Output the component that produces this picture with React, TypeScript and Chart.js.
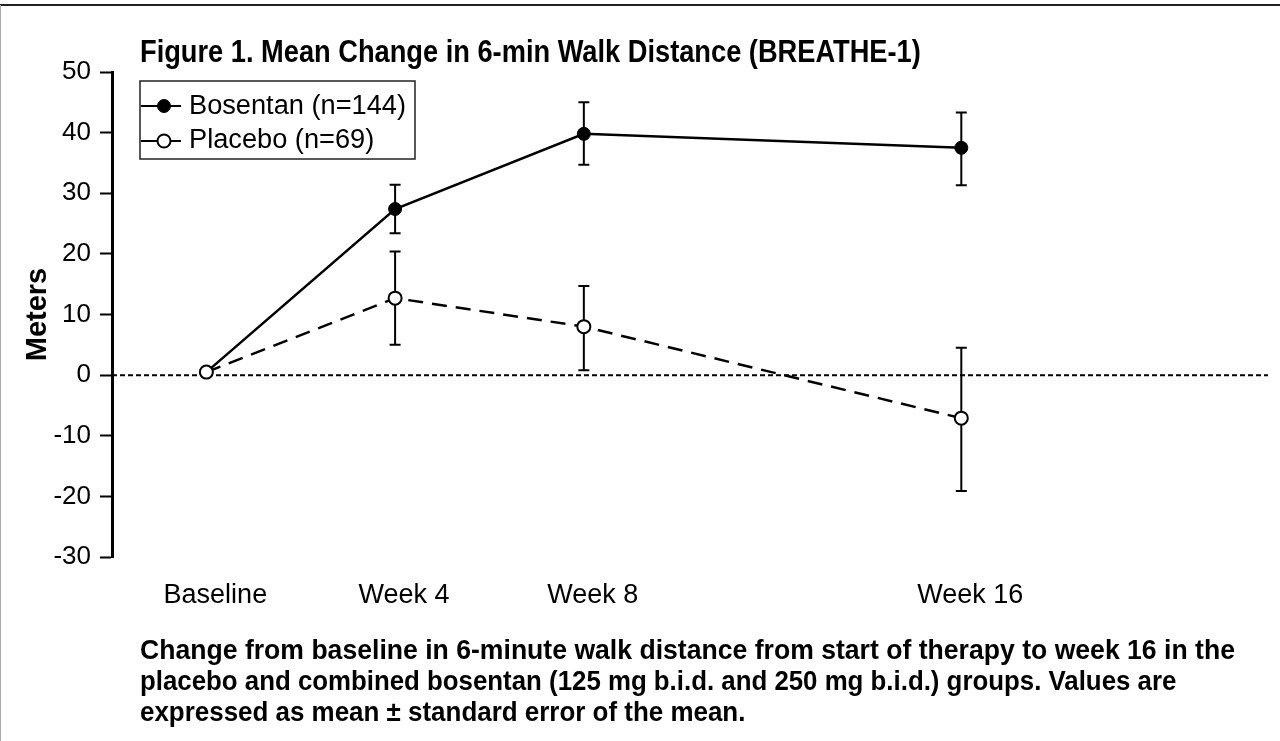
import React, { useEffect, useLayoutEffect, useRef, useState } from "react";
import { Chart, registerables } from "chart.js";

Chart.register(...registerables);

// ---------- data ----------
const weeks = [0, 4, 8, 16];
const weekLabels = ["Baseline", "Week 4", "Week 8", "Week 16"];
const yTicks = [50, 40, 30, 20, 10, 0, -10, -20, -30];

const seriesLabels = ["Bosentan (n=144)", "Placebo (n=69)"];

const bosentanMean = [0.5, 27.4, 39.8, 37.5];
const bosentanLow = [null, 23.4, 34.7, 31.3];
const bosentanHigh = [null, 31.4, 45.0, 43.3];

const placeboMean = [0.5, 12.7, 8.0, -7.1];
const placeboLow = [null, 5.0, 0.8, -19.1];
const placeboHigh = [null, 20.4, 14.7, 4.5];

const titleText = "Figure 1. Mean Change in 6-min Walk Distance (BREATHE-1)";
const yAxisTitle = "Meters";
const captionLines = [
  "Change from baseline in 6-minute walk distance from start of therapy to week 16 in the",
  "placebo and combined bosentan (125 mg b.i.d. and 250 mg b.i.d.) groups. Values are",
  "expressed as mean \u00b1 standard error of the mean.",
];

const SANS = '"Liberation Sans", Arial, sans-serif';
const NARROW = '"Liberation Sans Narrow", "Arial Narrow", "Liberation Sans", sans-serif';

// ---------- plugins ----------
const zeroLinePlugin = {
  id: "zeroLine",
  beforeDatasetsDraw(chart: any) {
    const { ctx, chartArea, scales } = chart;
    const y0 = scales.y.getPixelForValue(0);
    ctx.save();
    ctx.strokeStyle = "#000";
    ctx.lineWidth = 2;
    ctx.setLineDash([5, 3]);
    ctx.beginPath();
    ctx.moveTo(chartArea.left, y0);
    ctx.lineTo(chartArea.right, y0);
    ctx.stroke();
    ctx.restore();
  },
};

const errorBarPlugin = {
  id: "errorBars",
  beforeDatasetsDraw(chart: any) {
    const { ctx, scales } = chart;
    ctx.save();
    ctx.strokeStyle = "#000";
    ctx.lineWidth = 2;
    ctx.setLineDash([]);
    chart.data.datasets.forEach((ds: any) => {
      ds.data.forEach((p: any, i: number) => {
        const lo = ds.errLow[i];
        const hi = ds.errHigh[i];
        if (lo == null || hi == null) return;
        const px = scales.x.getPixelForValue(p.x);
        const yl = scales.y.getPixelForValue(lo);
        const yh = scales.y.getPixelForValue(hi);
        const cap = 5.5;
        ctx.beginPath();
        ctx.moveTo(px, yh);
        ctx.lineTo(px, yl);
        ctx.moveTo(px - cap, yh);
        ctx.lineTo(px + cap, yh);
        ctx.moveTo(px - cap, yl);
        ctx.lineTo(px + cap, yl);
        ctx.stroke();
      });
    });
    ctx.restore();
  },
};

const boxLegendPlugin = {
  id: "boxLegend",
  afterDraw(chart: any) {
    const { ctx } = chart;
    const box = { x: 140, y: 81, w: 275, h: 78 };
    ctx.save();
    ctx.strokeStyle = "#222";
    ctx.lineWidth = 1.5;
    ctx.setLineDash([]);
    ctx.strokeRect(box.x, box.y, box.w, box.h);

    ctx.font = `27px ${SANS}`;
    ctx.textBaseline = "alphabetic";
    ctx.textAlign = "left";
    const natural = ctx.measureText(chart.data.datasets[0].label).width;
    const sx = 217 / natural;

    chart.data.datasets.forEach((ds: any, i: number) => {
      const cy = 106 + 35 * i;
      ctx.strokeStyle = "#000";
      ctx.lineWidth = 2;
      ctx.beginPath();
      ctx.moveTo(box.x + 1, cy);
      ctx.lineTo(box.x + 41, cy);
      ctx.stroke();
      ctx.beginPath();
      ctx.arc(box.x + 24, cy, ds.pointRadius, 0, Math.PI * 2);
      ctx.fillStyle = ds.pointBackgroundColor;
      ctx.fill();
      ctx.lineWidth = ds.pointBorderWidth;
      ctx.strokeStyle = ds.pointBorderColor;
      ctx.stroke();

      ctx.fillStyle = "#000";
      ctx.save();
      ctx.translate(box.x + 49, 114 + 34 * i);
      ctx.scale(sx, 1);
      ctx.fillText(ds.label, 0, 0);
      ctx.restore();
    });
    ctx.restore();
  },
};

// ---------- fitted HTML text ----------
function FitText(props: {
  text: string;
  left: number;
  baseline: number;
  size: number;
  width: number;
  bold?: boolean;
  family?: string;
}) {
  const { text, left, baseline, size, width, bold, family } = props;
  const ref = useRef<HTMLSpanElement>(null);
  const [sx, setSx] = useState(1);
  useLayoutEffect(() => {
    const measure = () => {
      if (ref.current) {
        const w = ref.current.offsetWidth;
        if (w > 0) setSx(width / w);
      }
    };
    measure();
    if ((document as any).fonts && (document as any).fonts.ready) {
      (document as any).fonts.ready.then(measure);
    }
  }, [text, width, size]);
  const top = baseline - size * 0.8465;
  return (
    <span
      ref={ref}
      style={{
        position: "absolute",
        left,
        top,
        fontFamily: family || SANS,
        fontSize: size,
        lineHeight: `${size}px`,
        fontWeight: bold ? 700 : 400,
        whiteSpace: "nowrap",
        color: "#000",
        transform: `scaleX(${sx})`,
        transformOrigin: "0 0",
        display: "inline-block",
      }}
    >
      {text}
    </span>
  );
}

// ---------- chart ----------
function WalkChart() {
  const canvasRef = useRef<HTMLCanvasElement>(null);
  useEffect(() => {
    if (!canvasRef.current) return;
    const chart = new Chart(canvasRef.current, {
      type: "line",
      data: {
        datasets: [
          {
            label: seriesLabels[0],
            data: weeks.map((w, i) => ({ x: w, y: bosentanMean[i] })),
            errLow: bosentanLow,
            errHigh: bosentanHigh,
            borderColor: "#000",
            borderWidth: 2.5,
            pointRadius: 6.5,
            pointBackgroundColor: "#000",
            pointBorderColor: "#000",
            pointBorderWidth: 1,
            tension: 0,
            order: 1,
          } as any,
          {
            label: seriesLabels[1],
            data: weeks.map((w, i) => ({ x: w, y: placeboMean[i] })),
            errLow: placeboLow,
            errHigh: placeboHigh,
            borderColor: "#000",
            borderWidth: 2.5,
            borderDash: [15, 9],
            pointRadius: 6.5,
            pointBackgroundColor: "#fff",
            pointBorderColor: "#000",
            pointBorderWidth: 2,
            tension: 0,
            order: 0,
          } as any,
        ],
      },
      options: {
        responsive: false,
        animation: false,
        devicePixelRatio: 1,
        layout: { padding: { left: 0, top: 72, right: 12, bottom: 0 } },
        plugins: {
          legend: { display: false },
          tooltip: { enabled: false },
          title: { display: false },
        },
        scales: {
          x: {
            type: "linear",
            min: -2,
            max: 22.5,
            afterBuildTicks: (scale: any) => {
              scale.ticks = weeks.map((v) => ({ value: v }));
            },
            afterFit: (scale: any) => {
              scale.height = 184;
            },
            grid: { display: false },
            border: { display: false },
            ticks: {
              autoSkip: false,
              maxRotation: 0,
              padding: 14,
              labelOffset: 9,
              color: "#000",
              font: { family: SANS, size: 27 },
              callback: (_v: any, idx: number) => weekLabels[idx],
            },
          },
          y: {
            type: "linear",
            min: -30,
            max: 50,
            afterBuildTicks: (scale: any) => {
              scale.ticks = yTicks.map((v) => ({ value: v }));
            },
            afterFit: (scale: any) => {
              scale.width = 112;
            },
            grid: {
              display: true,
              drawOnChartArea: false,
              drawTicks: true,
              tickLength: 12,
              tickWidth: 2,
              tickColor: "#000",
            },
            border: { display: true, color: "#000", width: 3 },
            ticks: {
              padding: 9,
              color: "#000",
              font: { family: NARROW, size: 26 },
              callback: (v: any) => String(v),
            },
            title: {
              display: true,
              text: yAxisTitle,
              color: "#000",
              font: { family: NARROW, size: 29, weight: "bold" },
              padding: { top: 21, bottom: 0 },
            },
          },
        },
      } as any,
      plugins: [zeroLinePlugin, errorBarPlugin, boxLegendPlugin],
    });
    return () => chart.destroy();
  }, []);
  return (
    <canvas
      ref={canvasRef}
      width={1280}
      height={741}
      style={{ position: "absolute", left: 0, top: 0, width: 1280, height: 741 }}
    />
  );
}

export default function App() {
  return (
    <div
      style={{
        position: "absolute",
        left: 0,
        top: 0,
        width: 1280,
        height: 741,
        overflow: "hidden",
        background: "#fff",
      }}
    >
      <WalkChart />
      <div style={{ position: "absolute", left: 0, top: 4, width: 1280, height: 2, background: "#222" }} />
      <div style={{ position: "absolute", left: 0, top: 5, width: 1, height: 736, background: "#aaa" }} />
      <FitText text={titleText} left={140} baseline={62} size={31} width={781} bold family={NARROW} />
      <FitText text={captionLines[0]} left={140} baseline={660} size={28} width={1095} bold family={NARROW} />
      <FitText text={captionLines[1]} left={140} baseline={691} size={28} width={1036} bold family={NARROW} />
      <FitText text={captionLines[2]} left={140} baseline={722} size={28} width={605} bold family={NARROW} />
    </div>
  );
}
